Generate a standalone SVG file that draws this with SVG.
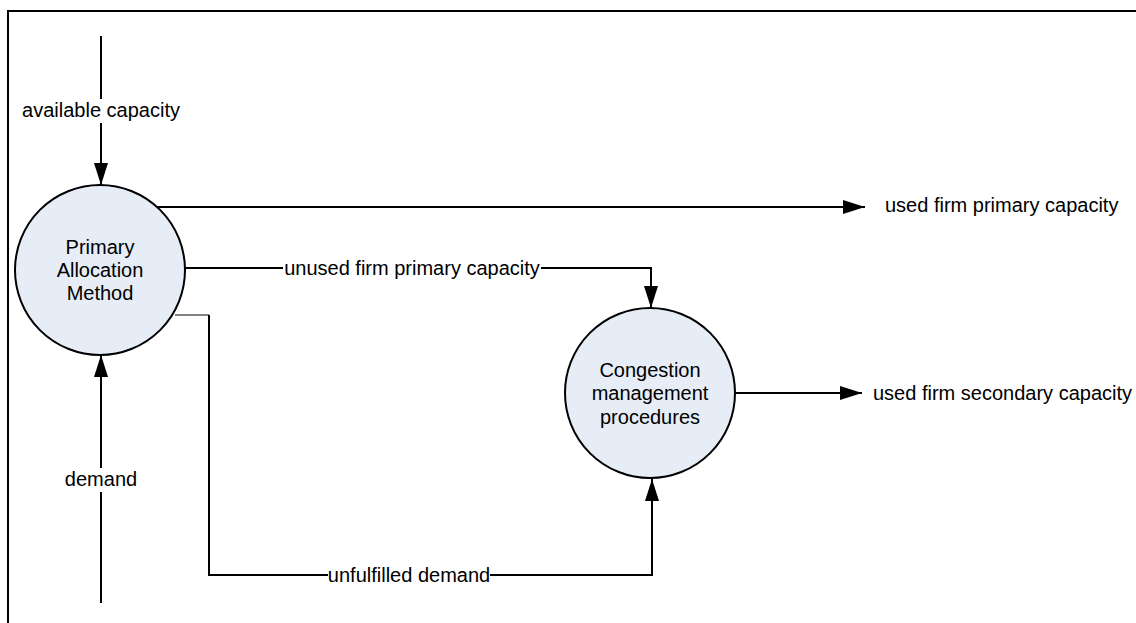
<svg xmlns="http://www.w3.org/2000/svg" width="1136" height="623" viewBox="0 0 1136 623">
<style>
.ln{fill:none;stroke:#000;stroke-width:2}
.node{fill:#e6edf7;stroke:#000;stroke-width:2}
text{font-family:"Liberation Sans",Arial,sans-serif;font-size:20px;fill:#000}
.c{text-anchor:middle}
.bg{fill:#fff;stroke:none}
</style>
<defs>
<marker id="ah" markerWidth="22" markerHeight="14" refX="22" refY="7" orient="auto" markerUnits="userSpaceOnUse">
<path d="M0,0 L22,7 L0,14 Z" fill="#000"/>
</marker>
</defs>
<rect x="0" y="0" width="1136" height="623" fill="#fff"/>
<path class="ln" d="M8,623 V11 H1136"/>
<g id="connectors">
<line class="ln" x1="101" y1="36" x2="101" y2="185" marker-end="url(#ah)"/>
<line class="ln" x1="101" y1="603" x2="101" y2="355" marker-end="url(#ah)"/>
<line class="ln" x1="157" y1="207" x2="865" y2="207" marker-end="url(#ah)"/>
<path class="ln" d="M185,268 H651 V308" marker-end="url(#ah)"/>
<path class="ln" d="M175,315 H209" style="stroke-width:1"/>
<path class="ln" d="M209,315 V575 H652 V479" marker-end="url(#ah)"/>
<line class="ln" x1="735" y1="393" x2="862" y2="393" marker-end="url(#ah)"/>
<rect class="bg" x="22" y="99" width="159" height="24"/>
<text x="101" y="117" class="c">available capacity</text>
<rect class="bg" x="64" y="468" width="73" height="24"/>
<text x="101" y="486" class="c">demand</text>
<rect class="bg" x="283" y="257" width="258" height="24"/>
<text x="412" y="275" class="c">unused firm primary capacity</text>
<rect class="bg" x="328" y="564" width="162" height="24"/>
<text x="409" y="582" class="c">unfulfilled demand</text>
<text x="885" y="212">used firm primary capacity</text>
<text x="873" y="400">used firm secondary capacity</text>
</g>
<g id="primary">
<circle class="node" cx="100" cy="270" r="85"/>
<text x="100" y="254" class="c">Primary</text>
<text x="100" y="277" class="c">Allocation</text>
<text x="100" y="300" class="c">Method</text>
</g>
<g id="congestion">
<circle class="node" cx="650" cy="393" r="85"/>
<text x="650" y="377" class="c">Congestion</text>
<text x="650" y="400" class="c">management</text>
<text x="650" y="424" class="c">procedures</text>
</g>
</svg>
